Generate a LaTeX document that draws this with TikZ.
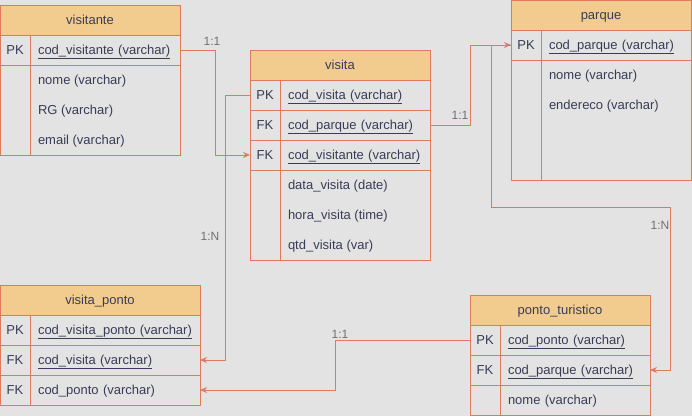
\documentclass[tikz,border=0pt]{standalone}
\usepackage{fontspec}
\setmainfont{Liberation Sans}
\usetikzlibrary{arrows.meta,calc,positioning}

\definecolor{erline}{HTML}{E07A5F}
\definecolor{erhead}{HTML}{F2CC8F}
\definecolor{ertext}{HTML}{393C56}
\definecolor{ercard}{HTML}{707070}
\definecolor{erback}{HTML}{E3E3E3}

\tikzset{
  every node/.style={font=\fontsize{13}{15}\selectfont, text=ertext, outer sep=0pt,
    text height=10.5pt, text depth=1.5pt},
  cell/.style={draw=erline, line width=1pt, minimum height=30pt, inner ysep=0pt, anchor=north west},
  head/.style={cell, fill=erhead, minimum width=180pt, inner xsep=0pt},
  keycell/.style={cell, minimum width=30pt, inner xsep=0pt},
  fieldcell/.style={cell, inner xsep=8pt, text width=134pt, align=left},
  wide/.style={text width=154pt},
  attr/.style={anchor=west, inner xsep=8pt, inner ysep=0pt},
  body/.style={draw=erline, line width=1pt},
  rel/.style={draw=erline, line width=1pt, -{Stealth[length=7pt,width=6pt]}},
  card/.style={text=ercard, font=\fontsize{12}{14}\selectfont, inner sep=0pt}
}

\begin{document}
\begin{tikzpicture}[x=1pt, y=-1pt]
  \fill[erback] (0,0) rectangle (692,416);
  \useasboundingbox (0,0) rectangle (692,416);

  % visitante
  \node[head] (visitante) at (0,5) {visitante};
  \node[keycell] (visitante-pk-k) at (0,35) {PK};
  \node[fieldcell] (visitante-pk) at (30,35) {\underline{cod\_visitante (varchar)}};
  \draw[body] (0,65) rectangle (30,155) (30,65) rectangle (180,155);
  \foreach \t [count=\i] in {nome (varchar), RG (varchar), email (varchar)}
    \node[attr] (visitante-a\i) at (30,50+30*\i) {\t};

  % visita
  \node[head] (visita) at (250,50) {visita};
  \node[keycell] (visita-pk-k) at (250,80) {PK};
  \node[fieldcell] (visita-pk) at (280,80) {\underline{cod\_visita (varchar)}};
  \node[keycell] (visita-fk1-k) at (250,110) {FK};
  \node[fieldcell] (visita-fk1) at (280,110) {\underline{cod\_parque (varchar)}};
  \node[keycell] (visita-fk2-k) at (250,140) {FK};
  \node[fieldcell] (visita-fk2) at (280,140) {\underline{cod\_visitante (varchar)}};
  \draw[body] (250,170) rectangle (280,260) (280,170) rectangle (430,260);
  \foreach \t [count=\i] in {data\_visita (date), hora\_visita (time), qtd\_visita (var)}
    \node[attr] (visita-a\i) at (280,155+30*\i) {\t};

  % parque
  \node[head] (parque) at (511,0) {parque};
  \node[keycell] (parque-pk-k) at (511,30) {PK};
  \node[fieldcell] (parque-pk) at (541,30) {\underline{cod\_parque (varchar)}};
  \draw[body] (511,60) rectangle (541,180) (541,60) rectangle (691,180);
  \foreach \t [count=\i] in {nome (varchar), endereco (varchar)}
    \node[attr] (parque-a\i) at (541,45+30*\i) {\t};

  % visita_ponto
  \node[head, minimum width=200pt] (vponto) at (0,285) {visita\_ponto};
  \node[keycell] (vponto-pk-k) at (0,315) {PK};
  \node[fieldcell, wide] (vponto-pk) at (30,315) {\underline{cod\_visita\_ponto (varchar)}};
  \node[keycell] (vponto-fk1-k) at (0,345) {FK};
  \node[fieldcell, wide] (vponto-fk1) at (30,345) {\underline{cod\_visita (varchar)}};
  \node[keycell] (vponto-fk2-k) at (0,375) {FK};
  \node[fieldcell, wide] (vponto-fk2) at (30,375) {cod\_ponto (varchar)};

  % ponto_turistico
  \node[head] (ponto) at (470,295) {ponto\_turistico};
  \node[keycell] (ponto-pk-k) at (470,325) {PK};
  \node[fieldcell] (ponto-pk) at (500,325) {\underline{cod\_ponto (varchar)}};
  \node[keycell] (ponto-fk1-k) at (470,355) {FK};
  \node[fieldcell] (ponto-fk1) at (500,355) {\underline{cod\_parque (varchar)}};
  \node[keycell] (ponto-a0-k) at (470,385) {};
  \node[fieldcell] (ponto-a1) at (500,385) {nome (varchar)};

  % relations
  \draw[rel] (visitante-pk.east) -- ++(35,0) |- (visita-fk2-k.west);
  \draw[rel] (visita-pk-k.west) -- ++(-25,0) |- (vponto-fk1.east);
  \draw[rel] (visita-fk1.east) -- ++(40,0) |- (parque-pk-k.west);
  \draw[rel] (parque-pk-k.west) -- ++(-20,0) -- ++(0,162)
    -| ([xshift=20pt]ponto-fk1.east) -- (ponto-fk1.east);
  \draw[rel] (ponto-pk-k.west) -- ++(-135,0) |- (vponto-fk2.east);

  \node[card] (card-a) at (212,41) {1:1};
  \node[card] (card-b) at (210,236) {1:N};
  \node[card] (card-c) at (460,115) {1:1};
  \node[card] (card-d) at (660,225) {1:N};
  \node[card] (card-e) at (340,334) {1:1};
\end{tikzpicture}
\end{document}
